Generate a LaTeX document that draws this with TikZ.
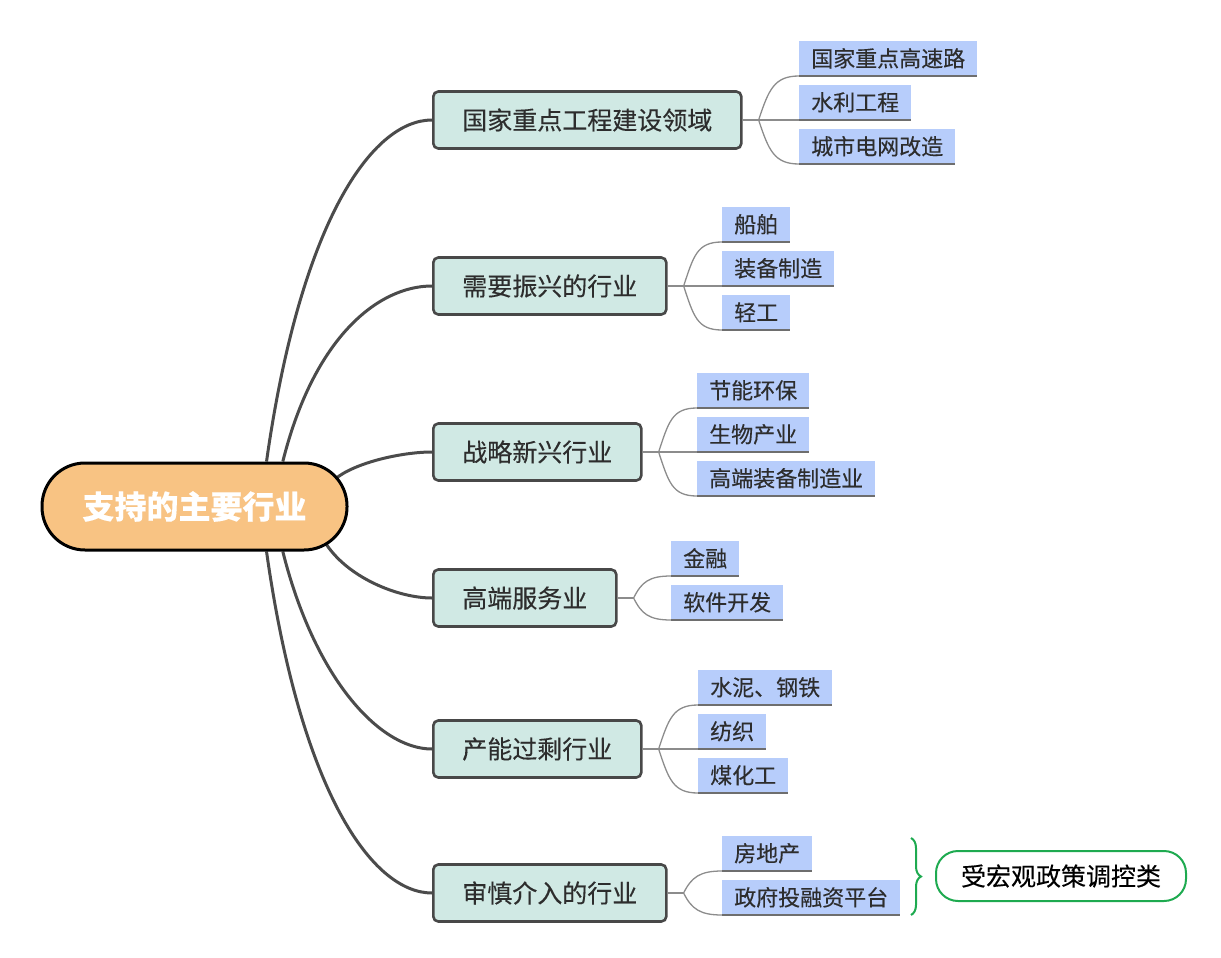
\documentclass[tikz,border=0pt]{standalone}
\usepackage{fontspec}
\setmainfont{Noto Sans CJK SC}[FakeBold=0.25]
\newfontfamily\rootfont{Noto Sans CJK SC}[FakeBold=0.25]
\usetikzlibrary{decorations.pathreplacing,calc}
\pgfdeclarelayer{background}
\pgfsetlayers{background,main}
\definecolor{rootfill}{RGB}{248,195,131}
\definecolor{topicfill}{RGB}{208,233,228}
\definecolor{topicdraw}{RGB}{72,72,72}
\definecolor{leaffill}{RGB}{183,205,251}
\definecolor{textdark}{RGB}{45,45,45}
\definecolor{edgecol}{RGB}{75,75,75}
\definecolor{leafline}{RGB}{140,140,140}
\definecolor{underl}{RGB}{110,110,110}
\definecolor{greenc}{RGB}{30,170,80}
\begin{document}
\begin{tikzpicture}[x=1pt,y=-1pt,
  rootnode/.style={draw=black, line width=3pt, fill=rootfill, rounded corners=43pt,
    minimum width=305pt, minimum height=87pt, text=white,
    font=\fontsize{32}{38}\selectfont\bfseries},
  topic/.style={draw=topicdraw, line width=2.6pt, fill=topicfill, rounded corners=5pt,
    minimum height=57pt, inner xsep=29pt, inner ysep=0pt, text=textdark,
    font=\fontsize{25}{30}\selectfont, anchor=west},
  leaf/.style={fill=leaffill, minimum height=35pt, inner xsep=12pt, inner ysep=0pt,
    text=textdark, font=\fontsize{22}{26}\selectfont, anchor=south west},
  mainedge/.style={draw=edgecol, line width=3pt},
  leafedge/.style={draw=leafline, line width=1.3pt},
  underline/.style={draw=underl, line width=1.6pt},
  notebox/.style={draw=greenc, line width=2pt, fill=white, rounded corners=22pt,
    minimum width=250pt, minimum height=50pt, text=black,
    font=\fontsize{25}{30}\selectfont},
  bracestyle/.style={draw=greenc, line width=2pt, decorate,
    decoration={brace, amplitude=10pt}}
]
\useasboundingbox (0,0) rectangle (1221,958);

% root
\node[rootnode] (root) at (194.5,506.5) {支持的主要行业};

% topics
\node[topic] (t1) at (432,120) {国家重点工程建设领域};
\node[topic] (t2) at (432,286) {需要振兴的行业};
\node[topic] (t3) at (432,452) {战略新兴行业};
\node[topic] (t4) at (432,598) {高端服务业};
\node[topic] (t5) at (432,749) {产能过剩行业};
\node[topic] (t6) at (432,893) {审慎介入的行业};

% leaves
\node[leaf] (l11) at (799,76) {国家重点高速路};
\node[leaf] (l12) at (799,120) {水利工程};
\node[leaf] (l13) at (799,164) {城市电网改造};

\node[leaf] (l21) at (722,242) {船舶};
\node[leaf] (l22) at (722,286) {装备制造};
\node[leaf] (l23) at (722,330) {轻工};

\node[leaf] (l31) at (697,408) {节能环保};
\node[leaf] (l32) at (697,452) {生物产业};
\node[leaf] (l33) at (697,496) {高端装备制造业};

\node[leaf] (l41) at (671,576) {金融};
\node[leaf] (l42) at (671,620) {软件开发};

\node[leaf] (l51) at (698,705) {水泥、钢铁};
\node[leaf] (l52) at (698,749) {纺织};
\node[leaf] (l53) at (698,793) {煤化工};

\node[leaf] (l61) at (722,871) {房地产};
\node[leaf] (l62) at (722,915) {政府投融资平台};

% note
\coordinate (bt) at (911,838);
\coordinate (bb) at (911,915);
\node[notebox] (note) at (1061,876) {受宏观政策调控类};
\draw[bracestyle] (bt) -- (bb);

\begin{pgfonlayer}{background}
\draw[mainedge] (root.32.8) .. controls +(34,-240) and +(-60,0) .. (t1.west);
\draw[mainedge] (root.27.5) .. controls +(31,-124) and +(-54,0) .. (t2.west);
\draw[mainedge] ($(root.east)+(-14,-27)$) .. controls +(20,-17) and +(-30,0) .. (t3.west);
\draw[mainedge] ($(root.east)+(-24,35)$) .. controls +(22,36) and +(-34,0) .. (t4.west);
\draw[mainedge] (root.-27.5) .. controls +(31,124) and +(-54,0) .. (t5.west);
\draw[mainedge] (root.-32.8) .. controls +(34,240) and +(-60,0) .. (t6.west);

% group 1
\draw[leafedge] (t1.east) -- ++(16,0) coordinate (b1);
\draw[leafedge] (b1) .. controls +(10,-30) and +(-25,0) .. (l11.south west);
\draw[leafedge] (b1) -- (l12.south west);
\draw[leafedge] (b1) .. controls +(10,30) and +(-25,0) .. (l13.south west);
% group 2
\draw[leafedge] (t2.east) -- ++(16,0) coordinate (b2);
\draw[leafedge] (b2) .. controls +(10,-30) and +(-25,0) .. (l21.south west);
\draw[leafedge] (b2) -- (l22.south west);
\draw[leafedge] (b2) .. controls +(10,30) and +(-25,0) .. (l23.south west);
% group 3
\draw[leafedge] (t3.east) -- ++(16,0) coordinate (b3);
\draw[leafedge] (b3) .. controls +(10,-30) and +(-25,0) .. (l31.south west);
\draw[leafedge] (b3) -- (l32.south west);
\draw[leafedge] (b3) .. controls +(10,30) and +(-25,0) .. (l33.south west);
% group 4
\draw[leafedge] (t4.east) -- ++(16,0) coordinate (b4);
\draw[leafedge] (b4) .. controls +(8,-16) and +(-22,0) .. (l41.south west);
\draw[leafedge] (b4) .. controls +(8,16) and +(-22,0) .. (l42.south west);
% group 5
\draw[leafedge] (t5.east) -- ++(16,0) coordinate (b5);
\draw[leafedge] (b5) .. controls +(10,-30) and +(-25,0) .. (l51.south west);
\draw[leafedge] (b5) -- (l52.south west);
\draw[leafedge] (b5) .. controls +(10,30) and +(-25,0) .. (l53.south west);
% group 6
\draw[leafedge] (t6.east) -- ++(16,0) coordinate (b6);
\draw[leafedge] (b6) .. controls +(8,-16) and +(-22,0) .. (l61.south west);
\draw[leafedge] (b6) .. controls +(8,16) and +(-22,0) .. (l62.south west);
\end{pgfonlayer}

\foreach \n in {l11,l12,l13,l21,l22,l23,l31,l32,l33,l41,l42,l51,l52,l53,l61,l62}
  \draw[underline] (\n.south west) -- (\n.south east);
\end{tikzpicture}
\end{document}
